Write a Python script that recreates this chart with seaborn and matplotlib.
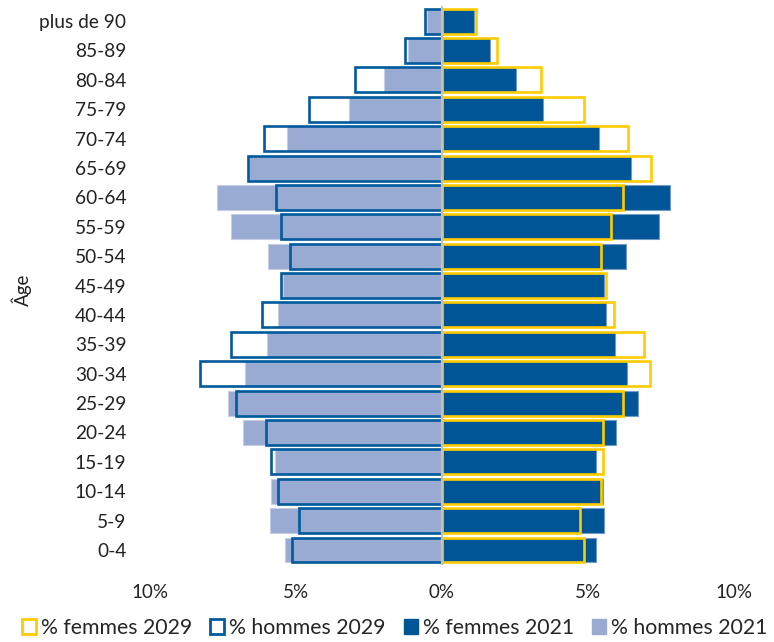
import matplotlib
matplotlib.use("Agg")
import matplotlib.pyplot as plt
import seaborn as sns
import pandas as pd
from matplotlib.patches import Patch

ages = ["plus de 90", "85-89", "80-84", "75-79", "70-74", "65-69", "60-64",
        "55-59", "50-54", "45-49", "40-44", "35-39", "30-34", "25-29",
        "20-24", "15-19", "10-14", "5-9", "0-4"]
hommes_2021 = [0.50, 1.15, 1.98, 3.17, 5.32, 6.60, 7.71, 7.24, 5.97, 5.43,
               5.63, 6.00, 6.76, 7.34, 6.80, 5.73, 5.84, 5.90, 5.39]
hommes_2029 = [0.58, 1.26, 2.97, 4.57, 6.10, 6.65, 5.70, 5.50, 5.22, 5.50,
               6.18, 7.24, 8.29, 7.06, 6.04, 5.84, 5.63, 4.91, 5.12]
femmes_2021 = [1.09, 1.64, 2.53, 3.45, 5.39, 6.48, 7.82, 7.44, 6.31, 5.56,
               5.60, 5.94, 6.35, 6.72, 5.97, 5.26, 5.53, 5.56, 5.26]
femmes_2029 = [1.16, 1.88, 3.38, 4.85, 6.38, 7.17, 6.21, 5.80, 5.46, 5.60,
               5.90, 6.93, 7.13, 6.21, 5.50, 5.53, 5.46, 4.71, 4.88]
xticks = [-10, -5, 0, 5, 10]
xtick_labels = ["10%", "5%", "0%", "5%", "10%"]

C_LIGHT = "#99AAD3"
C_DARK = "#005596"
C_YELLOW = "#FFCC00"
C_OUTLINE = "#005A9C"

sns.set_theme(style="white")
plt.rcParams["font.family"] = ["Lato", "DejaVu Sans"]

df = pd.DataFrame({
    "age": ages,
    "h21": [-v for v in hommes_2021],
    "h29": [-v for v in hommes_2029],
    "f21": femmes_2021,
    "f29": femmes_2029,
})

fig = plt.figure(figsize=(7.74, 6.42), dpi=100)
ax = fig.add_axes([0.1938, 0.1204, 0.7545, 0.8696])

W = 0.85
sns.barplot(data=df, y="age", x="h21", order=ages, color=C_LIGHT, width=W,
            orient="h", ax=ax, linewidth=0.8, edgecolor="#C5CEE6", saturation=1)
sns.barplot(data=df, y="age", x="f21", order=ages, color=C_DARK, width=W,
            orient="h", ax=ax, linewidth=0.8, edgecolor="#6F9CC6", saturation=1)
sns.barplot(data=df, y="age", x="h29", order=ages, color=C_OUTLINE, width=W,
            orient="h", ax=ax, fill=False, linewidth=1.9, saturation=1)
sns.barplot(data=df, y="age", x="f29", order=ages, color=C_YELLOW, width=W,
            orient="h", ax=ax, fill=False, linewidth=1.9, saturation=1)

ax.axvline(0, color="#C9C3A0", linewidth=1.6, zorder=10)

ax.set_xlim(-10, 10)
ax.set_ylim(len(ages) - 0.5, -0.5)
ax.set_xticks(xticks)
ax.set_xticklabels(xtick_labels, fontsize=13.5, color="#222222")
ax.tick_params(axis="x", length=0, pad=14)
ax.tick_params(axis="y", length=0, pad=17, labelsize=13.8, labelcolor="#222222")
ax.set_xlabel("")
ax.set_ylabel("Âge", fontsize=13.5, color="#222222")
ax.yaxis.set_label_coords(-0.202, 0.492)
for s in ax.spines.values():
    s.set_visible(False)
ax.grid(False)

handles = [
    Patch(facecolor="white", edgecolor=C_YELLOW, linewidth=2),
    Patch(facecolor="white", edgecolor=C_OUTLINE, linewidth=2),
    Patch(facecolor=C_DARK, edgecolor=C_DARK),
    Patch(facecolor=C_LIGHT, edgecolor=C_LIGHT),
]
labels = ["% femmes 2029", "% hommes 2029", "% femmes 2021", "% hommes 2021"]
fig.legend(handles, labels, loc="center", bbox_to_anchor=(0.51, 0.022), ncol=4,
           frameon=False, fontsize=15.3, handlelength=0.65, handleheight=0.65,
           handletextpad=0.25, columnspacing=0.85, borderaxespad=0)

fig.savefig("out.png", dpi=100)
